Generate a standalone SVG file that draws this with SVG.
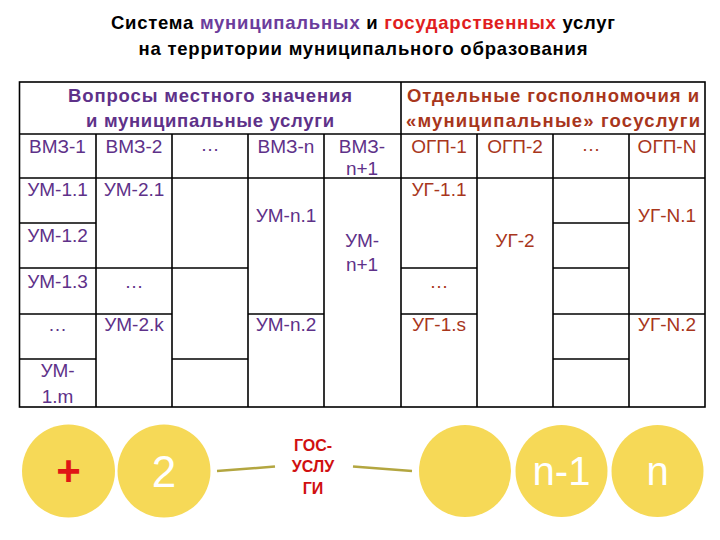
<svg xmlns="http://www.w3.org/2000/svg" width="720" height="540" viewBox="0 0 720 540">
<style>
.t{font-family:"Liberation Sans",Arial,sans-serif;font-weight:bold;font-size:18.5px;fill:#000}
.h{font-family:"Liberation Sans",Arial,sans-serif;font-weight:bold;font-size:18.5px;text-anchor:middle}
.m{fill:#5e3189}
.g{fill:#a8361c}
.c{font-family:"Liberation Sans",Arial,sans-serif;font-size:19px;text-anchor:middle}
.ln{stroke:#000;stroke-width:1.6;fill:none}
.ball{fill:#f6d957}
.bt{font-family:"Liberation Sans",Arial,sans-serif;text-anchor:middle;fill:#fff}
.conn{stroke:#b3a640;stroke-width:2.5;fill:none}
.lab{font-family:"Liberation Sans",Arial,sans-serif;font-weight:bold;font-size:16px;text-anchor:middle;fill:#d01010}
</style>
<rect width="720" height="540" fill="#fff"/>
<g id="title">
<text class="t" x="363" y="29" text-anchor="middle" textLength="504" lengthAdjust="spacing">Система <tspan fill="#6b3c9c">муниципальных</tspan> и <tspan fill="#e01e1e">государственных</tspan> услуг</text>
<text class="t" x="363" y="55" text-anchor="middle" textLength="449" lengthAdjust="spacing">на территории муниципального образования</text>
</g>
<g id="grid">
<rect class="ln" x="19.5" y="82" width="685.5" height="325"/>
<line class="ln" x1="19.5" y1="134" x2="705" y2="134"/>
<line class="ln" x1="19.5" y1="178" x2="705" y2="178"/>
<line class="ln" x1="401" y1="82" x2="401" y2="407"/>
<line class="ln" x1="96" y1="134" x2="96" y2="407"/>
<line class="ln" x1="172" y1="134" x2="172" y2="407"/>
<line class="ln" x1="248" y1="134" x2="248" y2="407"/>
<line class="ln" x1="324" y1="134" x2="324" y2="407"/>
<line class="ln" x1="477" y1="134" x2="477" y2="407"/>
<line class="ln" x1="553" y1="134" x2="553" y2="407"/>
<line class="ln" x1="629" y1="134" x2="629" y2="407"/>
<line class="ln" x1="19.5" y1="223" x2="96" y2="223"/>
<line class="ln" x1="19.5" y1="268" x2="248" y2="268"/>
<line class="ln" x1="19.5" y1="314" x2="172" y2="314"/>
<line class="ln" x1="248" y1="314" x2="324" y2="314"/>
<line class="ln" x1="19.5" y1="359" x2="96" y2="359"/>
<line class="ln" x1="172" y1="359" x2="248" y2="359"/>
<line class="ln" x1="553" y1="223" x2="629" y2="223"/>
<line class="ln" x1="401" y1="268" x2="477" y2="268"/>
<line class="ln" x1="553" y1="268" x2="629" y2="268"/>
<line class="ln" x1="401" y1="314" x2="477" y2="314"/>
<line class="ln" x1="553" y1="314" x2="705" y2="314"/>
<line class="ln" x1="553" y1="359" x2="629" y2="359"/>
</g>
<g id="head-mun">
<text class="h m" x="210" y="102" textLength="284" lengthAdjust="spacing">Вопросы местного значения</text>
<text class="h m" x="210" y="127" textLength="248" lengthAdjust="spacing">и муниципальные услуги</text>
</g>
<g id="head-gos">
<text class="h g" x="553" y="102" textLength="292" lengthAdjust="spacing">Отдельные госполномочия и</text>
<text class="h g" x="553" y="127" textLength="294" lengthAdjust="spacing">«муниципальные» госуслуги</text>
</g>
<g id="cells-mun" class="c m">
<text x="57.5" y="153">ВМЗ-1</text>
<text x="134" y="153">ВМЗ-2</text>
<text x="210" y="151">…</text>
<text x="286" y="153">ВМЗ-n</text>
<text x="362" y="153">ВМЗ-</text>
<text x="362" y="175">n+1</text>
<text x="57.5" y="196">УМ-1.1</text>
<text x="57.5" y="242">УМ-1.2</text>
<text x="57.5" y="288">УМ-1.3</text>
<text x="57.5" y="331">…</text>
<text x="57.5" y="377">УМ-</text>
<text x="57.5" y="403">1.m</text>
<text x="134" y="196">УМ-2.1</text>
<text x="134" y="288">…</text>
<text x="134" y="331">УМ-2.k</text>
<text x="286" y="222">УМ-n.1</text>
<text x="286" y="331">УМ-n.2</text>
<text x="362" y="247">УМ-</text>
<text x="362" y="271">n+1</text>
</g>
<g id="cells-gos" class="c g">
<text x="439" y="153">ОГП-1</text>
<text x="515" y="153">ОГП-2</text>
<text x="591" y="151">…</text>
<text x="667" y="153">ОГП-N</text>
<text x="439" y="196">УГ-1.1</text>
<text x="439" y="288">…</text>
<text x="439" y="331">УГ-1.s</text>
<text x="515" y="247">УГ-2</text>
<text x="667" y="222">УГ-N.1</text>
<text x="667" y="331">УГ-N.2</text>
</g>
<g id="connectors">
<line class="conn" x1="217" y1="471" x2="275" y2="466.5"/>
<line class="conn" x1="353" y1="466.5" x2="412" y2="471"/>
</g>
<g id="ball-plus">
<circle class="ball" cx="68.5" cy="471" r="46.5"/>
<text class="bt" x="68.5" y="485" font-size="42" font-weight="bold" style="fill:#e01515">+</text>
</g>
<g id="ball-2">
<circle class="ball" cx="164" cy="471" r="46.5"/>
<text class="bt" x="164" y="487" font-size="44">2</text>
</g>
<g id="label-gos">
<text class="lab" x="313" y="451">ГОС-</text>
<text class="lab" x="313" y="472">УСЛУ</text>
<text class="lab" x="313" y="494">ГИ</text>
</g>
<g id="ball-blank">
<circle class="ball" cx="465" cy="471" r="46"/>
</g>
<g id="ball-n1">
<circle class="ball" cx="561.5" cy="471" r="46"/>
<text class="bt" x="561.5" y="485" font-size="40">n-1</text>
</g>
<g id="ball-n">
<circle class="ball" cx="657.5" cy="471" r="46"/>
<text class="bt" x="657.5" y="485" font-size="40">n</text>
</g>
</svg>
